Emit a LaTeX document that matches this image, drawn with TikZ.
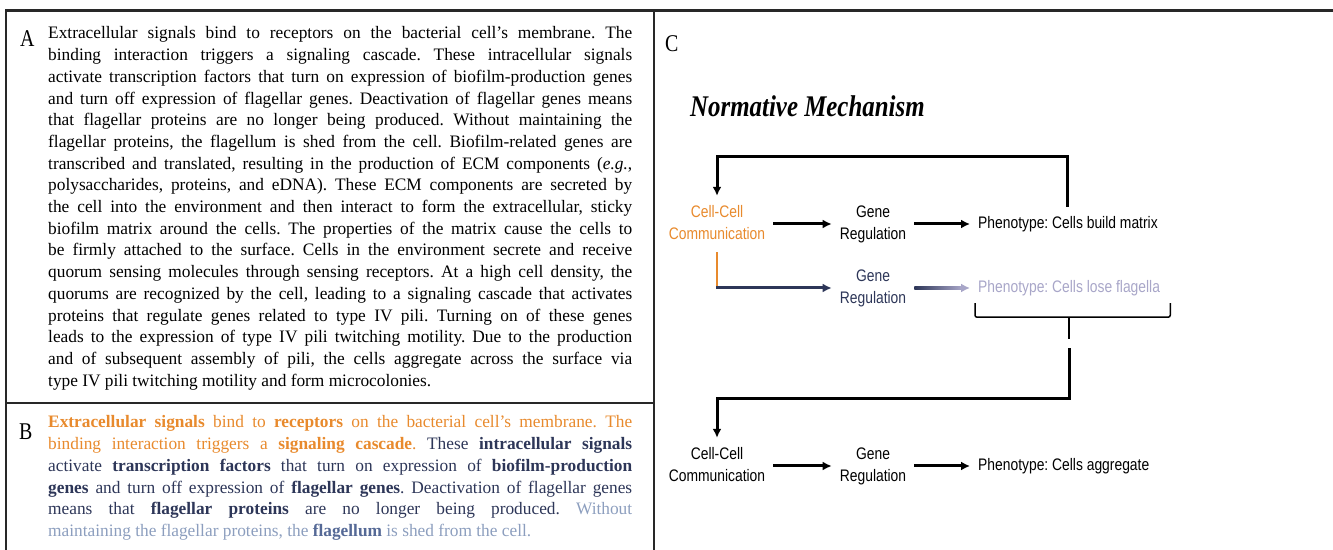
\documentclass[tikz,border=0pt]{standalone}
\usepackage{fontspec}
\setmainfont{Liberation Serif}[FakeStretch=0.99]
\newfontfamily\titlefont{Liberation Serif}[FakeStretch=0.83]
\newfontfamily\diagfont{Liberation Sans}[FakeStretch=0.83]
\usetikzlibrary{arrows.meta}
\definecolor{cascade}{RGB}{232,138,45}
\definecolor{signal}{RGB}{45,54,88}
\definecolor{fade}{RGB}{168,166,200}
\definecolor{faint}{RGB}{140,158,190}
\definecolor{flag}{RGB}{85,105,150}
\definecolor{rule}{RGB}{40,40,40}
\newcommand\hl[1]{\textbf{#1}}
\tolerance=9999 \hbadness=10000 \hyphenpenalty=10000
\frenchspacing

\begin{document}
\begin{tikzpicture}[x=1pt,y=1pt]
        \tikzstyle{panel}=[line width=2.5pt,rule]
        \tikzstyle{para}=[anchor=base west,inner sep=0pt,text width=584pt,align=justify,font=\fontsize{17.5}{21.7}\selectfont]
        \tikzstyle{letter}=[anchor=base west,inner sep=0pt,font=\titlefont\fontsize{24}{24}\selectfont]
        \tikzstyle{stage}=[inner xsep=8pt,inner ysep=6pt,align=center,font=\diagfont\fontsize{16.7}{22}\selectfont]
        \tikzstyle{flow}=[line width=3pt,-{Latex[length=9pt,width=9pt]}]
        \useasboundingbox (0,0) rectangle (1333,549);
        \draw[panel] (6,-3) -- (6,538.5) -- (1336,538.5);
        \draw[panel] (654,538.5) -- (654,-3);
        \draw[panel] (6,146) -- (654,146);

        \node[letter] (labA) at (20,502) {A};
        \node[para] (textA) at (48,510) {Extracellular signals bind to receptors on the bacterial cell's membrane. The\linebreak
        binding interaction triggers a signaling cascade. These intracellular signals\linebreak
        activate transcription factors that turn on expression of biofilm-production genes\linebreak
        and turn off expression of flagellar genes. Deactivation of flagellar genes means\linebreak
        that flagellar proteins are no longer being produced. Without maintaining the\linebreak
        flagellar proteins, the flagellum is shed from the cell. Biofilm-related genes are\linebreak
        transcribed and translated, resulting in the production of ECM components (\textit{e.g.},\linebreak
        polysaccharides, proteins, and eDNA). These ECM components are secreted by\linebreak
        the cell into the environment and then interact to form the extracellular, sticky\linebreak
        biofilm matrix around the cells. The properties of the matrix cause the cells to\linebreak
        be firmly attached to the surface. Cells in the environment secrete and receive\linebreak
        quorum sensing molecules through sensing receptors. At a high cell density, the\linebreak
        quorums are recognized by the cell, leading to a signaling cascade that activates\linebreak
        proteins that regulate genes related to type IV pili. Turning on of these genes\linebreak
        leads to the expression of type IV pili twitching motility. Due to the production\linebreak
        and of subsequent assembly of pili, the cells aggregate across the surface via\linebreak
        type IV pili twitching motility and form microcolonies.};

        \node[letter] (labB) at (19,109) {B};
        \node[para] (textB) at (48,121) {{\color{cascade}\hl{Extracellular signals} bind to \hl{receptors} on the bacterial cell's membrane. The\linebreak
        binding interaction triggers a \hl{signaling cascade}.} {\color{signal}These \hl{intracellular signals}\linebreak
        activate \hl{transcription factors} that turn on expression of \hl{biofilm-production}\linebreak
        \hl{genes} and turn off expression of \hl{flagellar genes}. Deactivation of flagellar genes\linebreak
        means that \hl{flagellar proteins} are no longer being produced.} {\color{faint}Without\linebreak
        maintaining the flagellar proteins, the {\color{flag}\hl{flagellum}} is shed from the cell.}};

        \node[letter] (labC) at (665,497) {C};
        \node[anchor=base west,inner sep=0pt,font=\titlefont\fontsize{30}{30}\selectfont\bfseries\itshape] (title) at (690,432) {Normative Mechanism};

        % first pathway
        \node[stage,text=cascade] (ccA) at (717,325) {Cell-Cell\strut\\Communication\strut};
        \node[stage] (grA) at (873,325) {Gene\strut\\Regulation\strut};
        \node[stage,anchor=west] (phA) at (970,325) {Phenotype: Cells build matrix\strut};
        \node[stage,text=signal] (grB) at (873,261) {Gene\strut\\Regulation\strut};
        \node[stage,anchor=west,text=fade] (phB) at (970,261) {Phenotype: Cells lose flagella\strut};
        % second pathway
        \node[stage] (ccC) at (717,83) {Cell-Cell\strut\\Communication\strut};
        \node[stage] (grC) at (873,83) {Gene\strut\\Regulation\strut};
        \node[stage,anchor=west] (phC) at (970,83) {Phenotype: Cells aggregate\strut};

        \draw[flow] (ccA) -- (grA);
        \draw[flow] (grA) -- (phA);
        \draw[flow] (phA.north) -- ++(0,50) -| (ccA.north);
        \coordinate (bend) at (ccA.south |- grB.west);
        \draw[cascade,line width=2pt] (ccA.south) -- (bend);
        \draw[flow,signal] ([xshift=-1pt]bend) -- (grB.west);
        \shade[left color=signal,right color=fade] ([yshift=-1.5pt]grB.east) rectangle ([xshift=-8pt,yshift=1.5pt]phB.west);
        \draw[flow,fade] ([xshift=-10pt]phB.west) -- (phB.west);
        \draw[line width=1.5pt,rounded corners=2pt] ([xshift=5pt,yshift=2pt]phB.south west) |- ([yshift=-12pt]phB.south) -| ([xshift=2pt,yshift=2pt]phB.south east);
        \draw[line width=1.5pt] ([yshift=-12pt]phB.south) -- ++(0,-22) coordinate (tip);
        \draw[flow] ([yshift=-9pt]tip) -- ++(0,-50) -| (ccC.north);
        \draw[flow] (ccC) -- (grC);
        \draw[flow] (grC) -- (phC);
\end{tikzpicture}
\end{document}
